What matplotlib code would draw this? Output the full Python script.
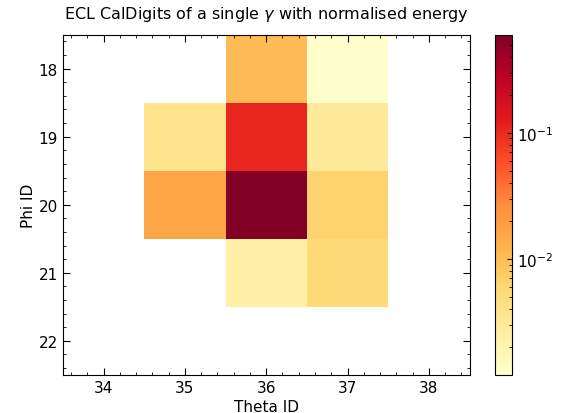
import matplotlib
matplotlib.use('Agg')
import matplotlib.pyplot as plt
import matplotlib.colors as mcolors
import numpy as np

# cal digits: theta id, phi id, normalised energy
theta_ids = [36, 37, 35, 36, 37, 35, 36, 37, 36, 37]
phi_ids = [18, 18, 19, 19, 19, 20, 20, 20, 21, 21]
energies = [0.0105, 0.0012, 0.0037, 0.106, 0.0029, 0.0162, 0.6, 0.0065, 0.0023, 0.0055]

theta_edges = np.arange(33.5, 39.0, 1.0)
phi_edges = np.arange(17.5, 23.0, 1.0)

grid = np.full((len(phi_edges) - 1, len(theta_edges) - 1), np.nan)
for t, p, e in zip(theta_ids, phi_ids, energies):
    grid[p - 18, t - 34] = e

fig = plt.figure(figsize=(5.61, 4.14), dpi=100)
ax = fig.add_axes([0.112, 0.092, 0.725, 0.822])
cax = fig.add_axes([0.882, 0.092, 0.031, 0.822])

mesh = ax.pcolormesh(theta_edges, phi_edges, np.ma.masked_invalid(grid), cmap='YlOrRd',
                     norm=mcolors.LogNorm(vmin=min(energies), vmax=max(energies)))
ax.set_xlim(33.5, 38.5)
ax.set_ylim(22.5, 17.5)
ax.set_xticks([34, 35, 36, 37, 38])
ax.set_yticks([18, 19, 20, 21, 22])
ax.minorticks_on()
ax.tick_params(which='both', direction='in', top=True, right=True, labelsize=11)
ax.tick_params(which='major', length=5)
ax.tick_params(which='minor', length=2.5)
ax.set_xlabel('Theta ID', fontsize=11, labelpad=3)
ax.set_ylabel('Phi ID', fontsize=11, labelpad=2)
ax.set_title(r'ECL CalDigits of a single $\gamma$ with normalised energy', fontsize=11.5, pad=12)

cb = fig.colorbar(mesh, cax=cax)
cb.ax.tick_params(which='both', direction='in', labelsize=11)

fig.savefig('out.png', dpi=100)
